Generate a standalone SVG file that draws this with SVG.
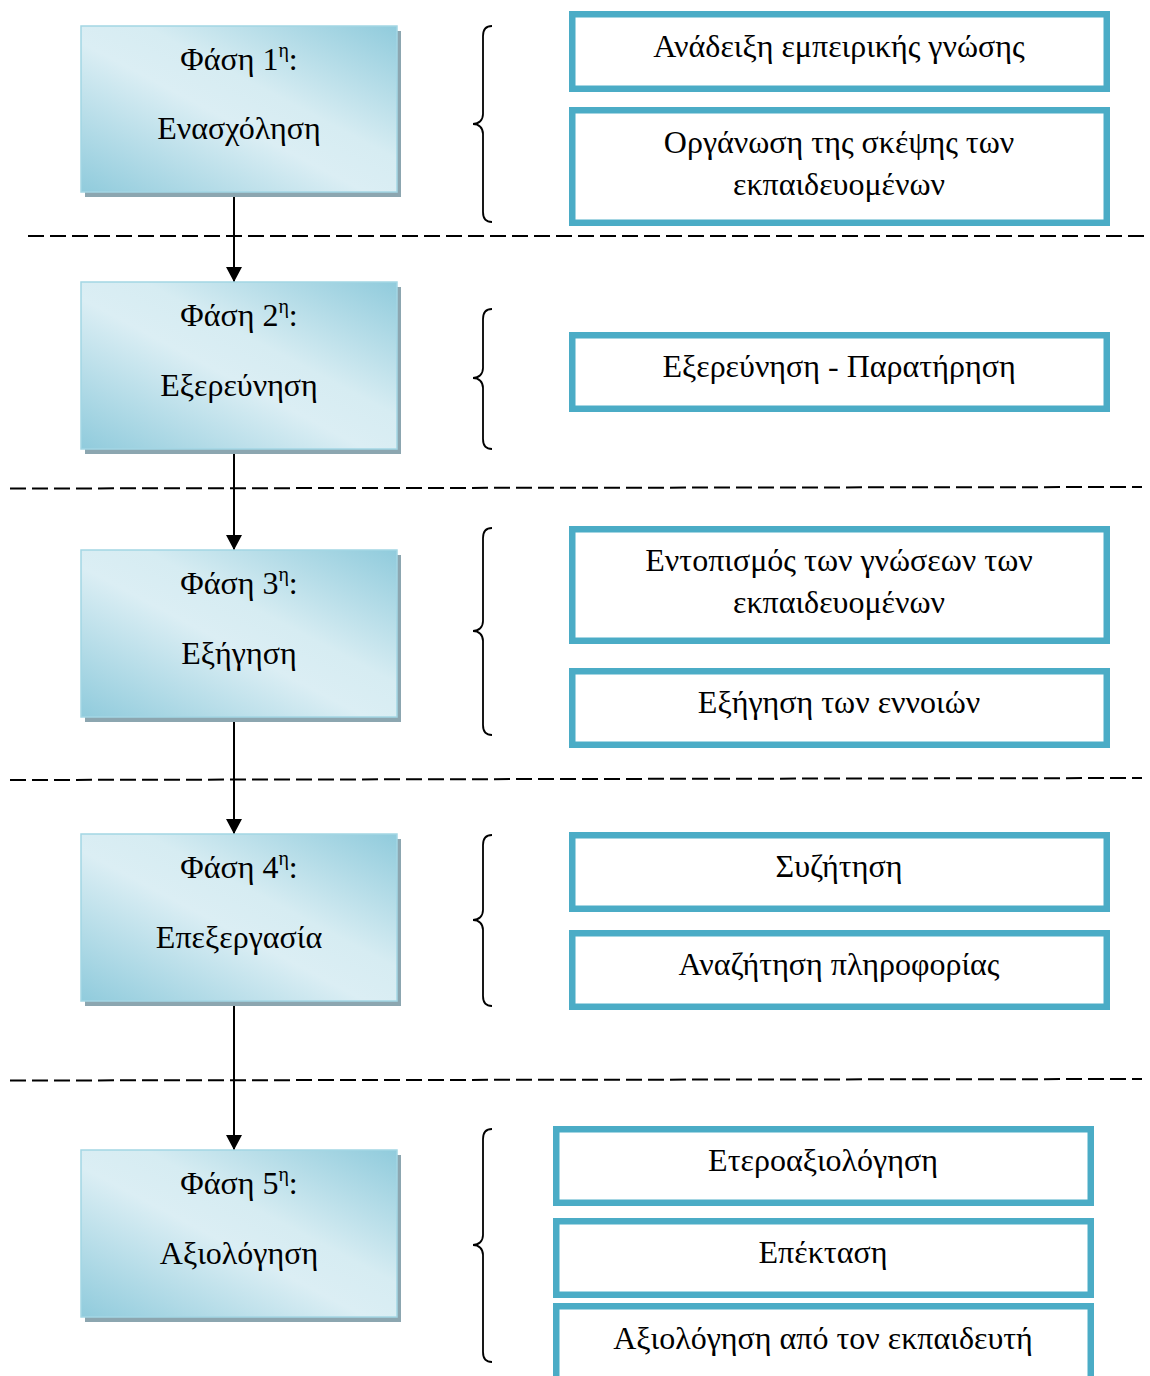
<svg xmlns="http://www.w3.org/2000/svg" width="1150" height="1376" viewBox="0 0 1150 1376">
<style>
text{font-family:"Liberation Serif","Times New Roman",serif;font-size:32px;fill:#000;text-anchor:middle}
.sup{font-size:20px}
.phase{fill:url(#pg);stroke:#a3d6e4;stroke-width:1.5}
.shadow{fill:#8ca6b0}
.box{fill:#fff;stroke:#4bacc6;stroke-width:6.5}
.brace{fill:none;stroke:#000;stroke-width:1.8}
.dash{stroke:#000;stroke-width:2;stroke-dasharray:16 6;fill:none}
.arrow{stroke:#000;stroke-width:2;fill:none;marker-end:url(#ah)}
</style>
<defs>
<linearGradient id="pg" x1="0" y1="1" x2="1" y2="0">
<stop offset="0" stop-color="#90cbdc"/>
<stop offset="0.45" stop-color="#dbeef4"/>
<stop offset="0.6" stop-color="#d6ecf2"/>
<stop offset="1" stop-color="#90cbdc"/>
</linearGradient>
<marker id="ah" markerWidth="16" markerHeight="16" refX="15" refY="8" orient="auto" markerUnits="userSpaceOnUse">
<path d="M0,0 L15,8 L0,16 Z" fill="#000"/>
</marker>
</defs>

<g id="separators">
<line class="dash" x1="28" y1="236" x2="1150" y2="236"/>
<line class="dash" x1="10" y1="488.5" x2="1142" y2="487"/>
<line class="dash" x1="10" y1="780" x2="1142" y2="778"/>
<line class="dash" x1="10" y1="1080.5" x2="1142" y2="1079"/>
</g>

<g id="connectors">
<line class="arrow" x1="234" y1="193" x2="234" y2="282"/>
<line class="arrow" x1="234" y1="450" x2="234" y2="550"/>
<line class="arrow" x1="234" y1="718" x2="234" y2="834"/>
<line class="arrow" x1="234" y1="1001" x2="234" y2="1150"/>
</g>

<g id="phase1">
<rect class="shadow" x="85" y="31" width="316" height="166"/>
<rect class="phase" x="81" y="26" width="316" height="166"/>
<text x="239" y="70">Φάση 1<tspan class="sup" dy="-13">η</tspan><tspan dy="13">:</tspan></text>
<text x="239" y="139">Ενασχόληση</text>
</g>
<g id="phase2">
<rect class="shadow" x="85" y="287" width="316" height="167"/>
<rect class="phase" x="81" y="282" width="316" height="167"/>
<text x="239" y="326">Φάση 2<tspan class="sup" dy="-13">η</tspan><tspan dy="13">:</tspan></text>
<text x="239" y="396">Εξερεύνηση</text>
</g>
<g id="phase3">
<rect class="shadow" x="85" y="555" width="316" height="167"/>
<rect class="phase" x="81" y="550" width="316" height="167"/>
<text x="239" y="594">Φάση 3<tspan class="sup" dy="-13">η</tspan><tspan dy="13">:</tspan></text>
<text x="239" y="664">Εξήγηση</text>
</g>
<g id="phase4">
<rect class="shadow" x="85" y="839" width="316" height="167"/>
<rect class="phase" x="81" y="834" width="316" height="167"/>
<text x="239" y="878">Φάση 4<tspan class="sup" dy="-13">η</tspan><tspan dy="13">:</tspan></text>
<text x="239" y="948">Επεξεργασία</text>
</g>
<g id="phase5">
<rect class="shadow" x="85" y="1155" width="316" height="167"/>
<rect class="phase" x="81" y="1150" width="316" height="167"/>
<text x="239" y="1194">Φάση 5<tspan class="sup" dy="-13">η</tspan><tspan dy="13">:</tspan></text>
<text x="239" y="1264">Αξιολόγηση</text>
</g>

<g id="braces">
<path class="brace" d="M492,26 C486,26 483,29 483,36 L483,114 C483,120 479,124 473,124 C479,124 483,128 483,134 L483,212 C483,219 486,222 492,222"/>
<path class="brace" d="M492,309 C486,309 483,312 483,319 L483,368 C483,374 479,378 473,378 C479,378 483,382 483,388 L483,439 C483,446 486,449 492,449"/>
<path class="brace" d="M492,528 C486,528 483,531 483,538 L483,621 C483,627 479,631 473,631 C479,631 483,635 483,641 L483,725 C483,732 486,735 492,735"/>
<path class="brace" d="M492,835 C486,835 483,838 483,845 L483,910 C483,916 479,920 473,920 C479,920 483,924 483,930 L483,996 C483,1003 486,1006 492,1006"/>
<path class="brace" d="M492,1129 C486,1129 483,1132 483,1139 L483,1235 C483,1241 479,1245 473,1245 C479,1245 483,1249 483,1255 L483,1352 C483,1359 486,1362 492,1362"/>
</g>

<g id="box1a">
<rect class="box" x="572.25" y="14.25" width="534.5" height="74.5"/>
<text x="839" y="57">Ανάδειξη εμπειρικής γνώσης</text>
</g>
<g id="box1b">
<rect class="box" x="572.25" y="110.25" width="534.5" height="112.5"/>
<text x="839" y="153">Οργάνωση της σκέψης των</text>
<text x="839" y="195">εκπαιδευομένων</text>
</g>
<g id="box2a">
<rect class="box" x="572.25" y="335.25" width="534.5" height="73.5"/>
<text x="839" y="377">Εξερεύνηση - Παρατήρηση</text>
</g>
<g id="box3a">
<rect class="box" x="572.25" y="529.25" width="534.5" height="111.5"/>
<text x="839" y="571">Εντοπισμός των γνώσεων των</text>
<text x="839" y="613">εκπαιδευομένων</text>
</g>
<g id="box3b">
<rect class="box" x="572.25" y="671.25" width="534.5" height="73.5"/>
<text x="839" y="713">Εξήγηση των εννοιών</text>
</g>
<g id="box4a">
<rect class="box" x="572.25" y="835.25" width="534.5" height="73.5"/>
<text x="839" y="877">Συζήτηση</text>
</g>
<g id="box4b">
<rect class="box" x="572.25" y="933.25" width="534.5" height="73.5"/>
<text x="839" y="975">Αναζήτηση πληροφορίας</text>
</g>
<g id="box5a">
<rect class="box" x="556.25" y="1129.25" width="534.5" height="73.5"/>
<text x="823" y="1171">Ετεροαξιολόγηση</text>
</g>
<g id="box5b">
<rect class="box" x="556.25" y="1221.25" width="534.5" height="73.5"/>
<text x="823" y="1263">Επέκταση</text>
</g>
<g id="box5c">
<rect class="box" x="556.25" y="1306.25" width="534.5" height="90"/>
<text x="823" y="1349">Αξιολόγηση από τον εκπαιδευτή</text>
</g>
</svg>
